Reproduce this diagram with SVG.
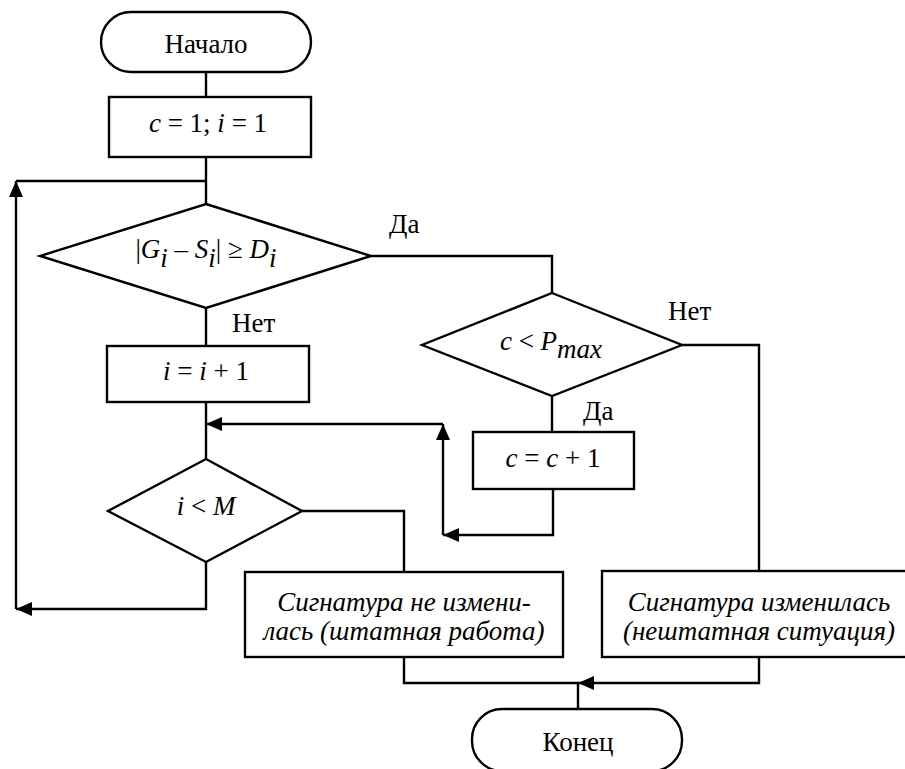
<svg xmlns="http://www.w3.org/2000/svg" width="905" height="769" viewBox="0 0 905 769">
<style>
.s{fill:#fff;stroke:#000;stroke-width:2.4}
.c{fill:none;stroke:#000;stroke-width:2.4}
text{font-family:"Liberation Serif","DejaVu Serif","Times New Roman",serif;font-size:27px;fill:#000}
.m{text-anchor:middle}
.i{font-style:italic}
</style>
<defs>
<marker id="ah" markerUnits="userSpaceOnUse" markerWidth="16" markerHeight="14" refX="16" refY="7" orient="auto">
<path d="M0,0 L16,7 L0,14 z" fill="#000"/>
</marker>
</defs>
<rect width="905" height="769" fill="#fff"/>
<g id="connectors">
<path class="c" d="M206,72 V97"/>
<path class="c" d="M206,157 V204"/>
<path class="c" d="M16,609 V181" marker-end="url(#ah)"/>
<path class="c" d="M16,181 H206"/>
<path class="c" d="M371,256 H552 V293"/>
<path class="c" d="M206,308 V346"/>
<path class="c" d="M206,402 V459"/>
<path class="c" d="M552,396 V432"/>
<path class="c" d="M682,345 H759 V571"/>
<path class="c" d="M553,489 V535 H443" marker-end="url(#ah)"/>
<path class="c" d="M443,535 V424" marker-end="url(#ah)"/>
<path class="c" d="M443,424 H206" marker-end="url(#ah)"/>
<path class="c" d="M302,511 H404 V572"/>
<path class="c" d="M206,562 V609 H16" marker-end="url(#ah)"/>
<path class="c" d="M404,657 V683 H578"/>
<path class="c" d="M759,657 V683 H578" marker-end="url(#ah)"/>
<path class="c" d="M578,683 V709"/>
</g>
<g id="start">
<rect class="s" x="101" y="12" width="210" height="60" rx="30"/>
<text class="m" x="206" y="53">Начало</text>
</g>
<g id="init">
<rect class="s" x="109" y="97" width="202" height="60"/>
<text class="m" x="208" y="132"><tspan class="i">c</tspan> = 1; <tspan class="i">i</tspan> = 1</text>
</g>
<g id="cond1">
<polygon class="s" points="206,204 371,256 206,308 40,256"/>
<text class="m" x="206" y="258">|<tspan class="i">G</tspan><tspan class="i" dy="9">i</tspan><tspan dy="-9"> – </tspan><tspan class="i">S</tspan><tspan class="i" dy="9">i</tspan><tspan dy="-9">| ≥ </tspan><tspan class="i">D</tspan><tspan class="i" dy="9">i</tspan></text>
<text x="389" y="233">Да</text>
<text x="232" y="332">Нет</text>
</g>
<g id="inc-i">
<rect class="s" x="107" y="346" width="202" height="56"/>
<text class="m" x="206" y="380"><tspan class="i">i</tspan> = <tspan class="i">i</tspan> + 1</text>
</g>
<g id="cond2">
<polygon class="s" points="552,293 682,345 552,396 422,345"/>
<text class="m" x="551" y="350"><tspan class="i">c</tspan> &lt; <tspan class="i">P</tspan><tspan class="i" dy="8">max</tspan></text>
<text x="668" y="320">Нет</text>
<text x="583" y="420">Да</text>
</g>
<g id="inc-c">
<rect class="s" x="473" y="432" width="161" height="57"/>
<text class="m" x="553" y="467"><tspan class="i">c</tspan> = <tspan class="i">c</tspan> + 1</text>
</g>
<g id="cond3">
<polygon class="s" points="206,459 302,511 206,562 108,511"/>
<text class="m" x="206" y="515"><tspan class="i">i</tspan> &lt; <tspan class="i">M</tspan></text>
</g>
<g id="normal">
<rect class="s" x="245" y="572" width="318" height="85"/>
<text class="m i" x="404" y="611">Сигнатура не измени-</text>
<text class="m i" x="404" y="640">лась (штатная работа)</text>
</g>
<g id="abnormal">
<rect class="s" x="602" y="571" width="314" height="86"/>
<text class="m i" x="759" y="611">Сигнатура изменилась</text>
<text class="m i" x="759" y="640">(нештатная ситуация)</text>
</g>
<g id="end">
<rect class="s" x="472" y="709" width="210" height="62" rx="30"/>
<text class="m" x="578" y="751">Конец</text>
</g>
</svg>
